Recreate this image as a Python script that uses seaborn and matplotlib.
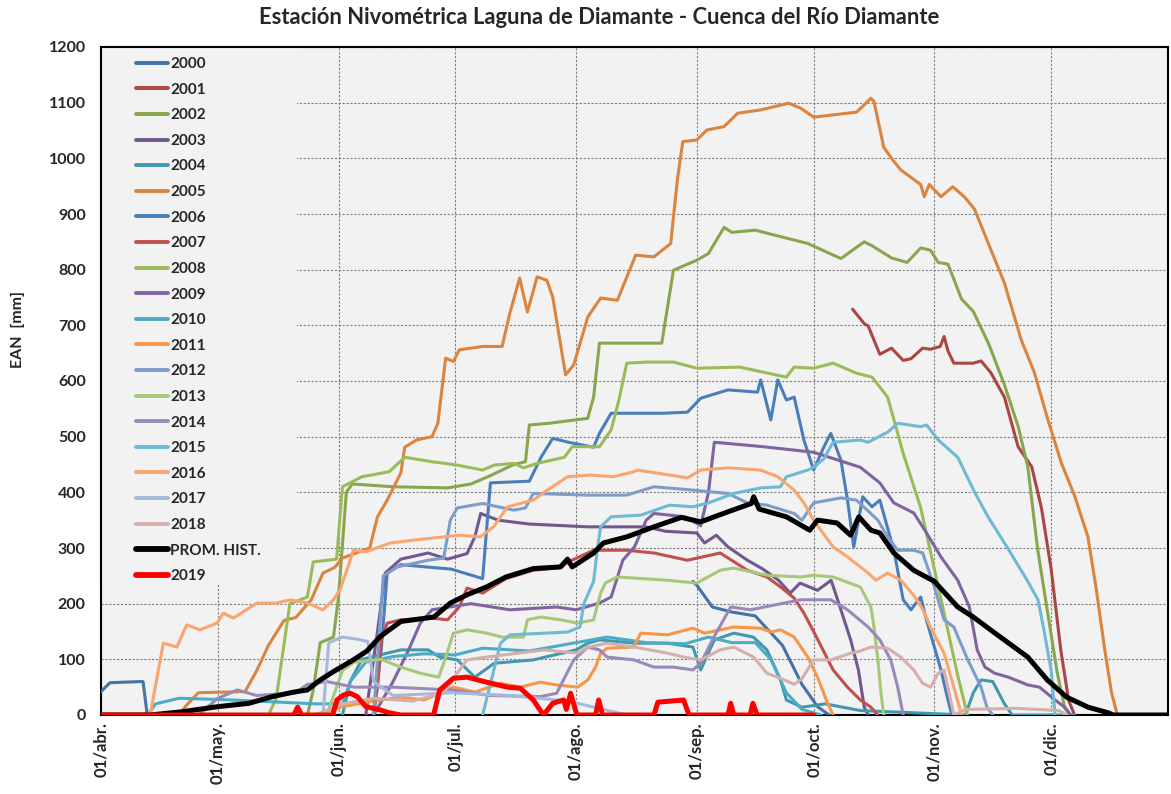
import matplotlib
matplotlib.use("Agg")
import pandas as pd
import matplotlib.pyplot as plt
import seaborn as sns
from matplotlib.lines import Line2D
from matplotlib.patches import Rectangle

sns.set_style("white")
plt.rcParams['font.family'] = ['Lato', 'DejaVu Sans']
plt.rcParams['font.weight'] = 'bold'

# 1. Datos: (día desde 01/abr, EAN mm)
meses = ['01/abr.', '01/may.', '01/jun.', '01/jul.', '01/ago.', '01/sep.', '01/oct.', '01/nov.', '01/dic.']
dias_mes = [0, 30, 61, 91, 122, 153, 183, 214, 244]

s2000a = [(0, 42), (2.3, 58), (10, 60), (10.8, 60), (11.8, 4), (13, 0)]
s2000b = [(152, 240), (153, 233), (157, 194), (162, 185), (168, 178), (175, 125), (180, 55), (184, 15), (187, 0)]
s2001 = [(193, 729), (196, 703), (197, 699), (200, 648), (203, 659), (206, 637), (208, 640), (211, 659), (213, 657),
         (215.5, 662), (216.5, 680), (217.5, 654), (219, 632), (224, 632), (226, 636), (228.5, 615), (232, 571),
         (235.5, 482), (239, 446), (241.5, 372), (244, 262), (246.5, 115), (248.5, 26), (250, 0)]
s2002 = [(53, 0), (54.5, 45), (56.3, 130), (59.7, 140), (61, 212), (63, 400), (64.5, 415), (75, 410), (89, 408),
         (95, 415), (100, 430), (106, 450), (109, 455), (110, 521), (115, 524), (125, 533), (126.5, 571), (128, 668),
         (135, 668), (144, 668), (147, 799), (153, 817), (156, 829), (160, 876), (162, 867), (168, 871), (173, 862),
         (181.5, 847), (190, 820), (194, 840), (196, 850), (198, 843), (203, 821), (207, 813), (210.5, 839),
         (213, 835), (215, 813), (217.5, 810), (221, 747), (224, 725), (228, 666), (232, 593), (235.5, 519),
         (238, 446), (240.5, 299), (243, 188), (245.5, 78), (247.5, 12), (249, 0)]
s2003 = [(68, 0), (71, 150), (73, 255), (77, 280), (84, 291), (89, 280), (94, 290), (96, 320), (97.5, 362), (102, 350),
         (110, 343), (125, 338), (140, 338), (145, 330), (153, 327), (155, 309), (158, 323), (161, 302), (166, 278),
         (170, 262), (174, 242), (177, 219), (179.5, 237), (184, 224), (187.5, 242), (190, 189), (192.5, 135),
         (194.5, 81), (196, 14), (197, 0)]
s2004 = [(62, 0), (64, 60), (67, 100), (77, 117), (84, 117), (87, 104), (91.5, 99), (96, 68), (101, 93), (111, 99),
         (122, 117), (125, 129), (128, 135), (137, 129), (145.5, 129), (152, 122), (154, 81), (157.5, 135),
         (162.5, 147), (167.5, 140), (171, 117), (174.5, 63), (176, 27), (180, 14), (186, 20), (195, 8), (222, 0),
         (224, 40), (226, 63), (229, 60), (232, 20), (234, 0), (250, 0)]
s2005 = [(20, 0), (22, 18), (25, 40), (37, 42), (40, 80), (43, 125), (47, 170), (50, 175), (54, 207), (57, 255),
         (60, 265), (62, 282), (69, 300), (71, 356), (73.5, 386), (77, 435), (78, 481), (81, 494), (85, 500),
         (86.5, 524), (88.5, 641), (90.5, 635), (92, 656), (98, 662), (103, 662), (105, 722), (107.5, 785),
         (109.5, 724), (112, 787), (114.5, 781), (116, 751), (119.3, 611), (121.4, 629), (125, 715), (128.3, 749),
         (132.6, 745), (137.3, 826), (142, 823), (146.3, 847), (148, 961), (149.4, 1030), (153, 1033), (155.6, 1051),
         (160, 1057), (163.5, 1081), (169.4, 1087), (176.6, 1099), (179.7, 1090), (183, 1074), (188, 1078),
         (194, 1083), (196, 1096), (197.7, 1108), (198.5, 1102), (201, 1020), (203, 1000), (205.4, 979),
         (210.5, 953), (211.4, 931), (212.7, 953), (215.7, 931), (218.7, 949), (221.7, 931), (224.3, 909),
         (227.7, 850), (232, 776), (236.3, 674), (239.7, 615), (243, 534), (246.6, 453), (250, 394), (253.4, 321),
         (255.5, 230), (257.7, 120), (259.5, 40), (261, 0)]
s2006 = [(70, 0), (72, 120), (73.5, 255), (77, 270), (90, 262), (98, 245), (100, 417), (110, 420), (113, 463),
         (116, 497), (120, 490), (126.5, 481), (128, 506), (131, 542), (144, 542), (150.6, 544), (154, 569),
         (161, 584), (168.6, 580), (169.4, 602), (172, 530), (173.8, 602), (176, 566), (178, 571), (180.5, 494),
         (183, 440), (185.6, 481), (187.4, 506), (190, 458), (191.7, 386), (193.3, 302), (195.6, 392), (198, 374),
         (200, 386), (203.6, 296), (206, 207), (208, 189), (210.5, 212), (212, 170), (214, 122), (215.7, 81),
         (217.5, 27), (218.5, 0)]
s2007 = [(70, 0), (71, 50), (72, 135), (73.5, 165), (77, 171), (85, 174), (89, 171), (92, 194), (94, 228), (98, 219),
         (104, 245), (111, 260), (118, 265), (120, 275), (126.5, 296), (135, 296), (142, 291), (150.6, 278),
         (159, 291), (166, 260), (171, 248), (174.5, 230), (178, 210), (180.5, 183), (183, 150), (188, 81),
         (191.7, 50), (195, 27), (197.7, 14), (199.5, 0)]
s2008 = [(43, 0), (45, 30), (48.5, 200), (53, 212), (54.5, 275), (60.5, 280), (62, 410), (67, 428), (74, 437),
         (78, 463), (85, 455), (91.5, 449), (98, 440), (101, 449), (106, 452), (108.5, 444), (112, 452), (119, 463),
         (121, 482), (128, 482), (131, 512), (133, 566), (135, 632), (140, 634), (147, 634), (153, 623), (164, 625),
         (176, 607), (178, 625), (183, 623), (188, 632), (194, 614), (198, 607), (202, 571), (206, 470),
         (210.5, 372), (214, 262), (217.5, 151), (220, 71), (222.5, 0)]
s2009 = [(70, 0), (75, 60), (79, 117), (82, 165), (85, 189), (95, 200), (105, 189), (117, 194), (122, 189),
         (128, 201), (131, 212), (134, 278), (137, 302), (140, 350), (142, 362), (150, 356), (154, 340), (156, 400),
         (157.5, 490), (170, 482), (183, 472), (195, 445), (200, 417), (203.6, 381), (208.7, 363), (212, 327),
         (215.7, 284), (220, 242), (223, 194), (225, 117), (227, 86), (229.5, 75), (233, 68), (238, 54), (241, 50),
         (245, 27), (247.5, 14), (249, 0)]
s2010 = [(12, 0), (14, 20), (20, 30), (30, 28), (40, 25), (55, 20), (62, 20), (64, 60), (68, 95), (75, 105), (83, 110),
         (91, 108), (98, 120), (110, 115), (118, 125), (122, 130), (130, 140), (140, 130), (150, 128), (156, 140),
         (162, 130), (168, 130), (172, 100), (176, 40), (180, 10), (185, 0)]
s2011 = [(55, 0), (62, 15), (70, 25), (77, 32), (83, 27), (90.5, 50), (96, 41), (102.6, 57), (107.7, 50), (112.8, 59),
         (117, 54), (122.4, 50), (125, 63), (127, 86), (128.3, 111), (130, 120), (136.8, 122), (138.6, 147),
         (145.5, 144), (152, 156), (155, 147), (162.5, 158), (169.4, 156), (172, 149), (174.5, 153), (178, 140),
         (181.5, 104), (184, 68), (186.6, 21), (188, 0)]
s2012 = [(70, 0), (72.5, 250), (76, 266), (84, 278), (88, 282), (89.7, 350), (91.5, 372), (98, 380), (106, 368),
         (109, 372), (111, 398), (125, 395), (135, 395), (142, 410), (152, 404), (161, 398), (166, 381), (171, 377),
         (178, 362), (180, 350), (183, 381), (190, 390), (194, 386), (199.5, 350), (202, 320), (204.6, 296),
         (208.7, 296), (211, 291), (214, 230), (216.5, 171), (219, 158), (222.6, 99), (226, 50), (227.5, 14), (229, 0)]
s2013 = [(58, 0), (62, 80), (65, 95), (72, 100), (77, 86), (82, 75), (86.7, 68), (88, 93), (90.5, 147), (94, 153),
         (99, 147), (103, 140), (108.5, 140), (109.5, 171), (113, 176), (118, 171), (122.4, 165), (126.5, 171),
         (128.3, 219), (129.5, 237), (132.6, 248), (145.5, 242), (153, 237), (159, 260), (162.5, 264), (171, 251),
         (179.7, 248), (183, 251), (188, 248), (195, 230), (197.7, 194), (198.5, 158), (199.5, 99), (200.3, 39),
         (201, 0)]
s2014 = [(25, 0), (30, 30), (35, 45), (40, 35), (50, 40), (53, 55), (58, 60), (65, 50), (75, 50), (90, 45), (100, 35),
         (112.8, 33), (117, 39), (121.4, 99), (125, 122), (128, 117), (130, 104), (136.8, 99), (142, 86), (147, 86),
         (152, 81), (154, 93), (157.4, 140), (161.7, 194), (166.8, 189), (175.4, 201), (179.7, 207), (187.4, 207),
         (191.7, 189), (197, 158), (200, 135), (202.8, 99), (204.6, 50), (206, 0)]
s2015 = [(98, 0), (102.6, 129), (105, 144), (119.8, 149), (123, 158), (124, 200), (126.5, 240), (127.5, 300),
         (128.3, 338), (131, 356), (138.6, 359), (146, 377), (152, 374), (156, 381), (162.5, 398), (169.4, 408),
         (174.5, 410), (176, 428), (181.5, 440), (183, 445), (185.6, 460), (188, 490), (195, 494), (197, 490),
         (202, 508), (204.6, 524), (210.5, 518), (212, 521), (215, 494), (220, 463), (224.3, 401), (227.7, 357),
         (232.9, 299), (238, 240), (240.6, 207), (242, 158), (244, 80), (245, 0)]
s2016 = [(12.6, 0), (16, 129), (19.5, 122), (22, 162), (25.4, 153), (29.8, 165), (31.4, 183), (34, 174), (40, 201),
         (45, 201), (48.6, 207), (53, 201), (57, 189), (59.7, 207), (61.4, 225), (64, 278), (64.8, 296), (68, 293),
         (74.3, 309), (80, 314), (85.3, 318), (92.3, 323), (97.4, 320), (100.8, 338), (104.4, 374), (111, 386),
         (114.6, 404), (119.8, 428), (125.7, 431), (131.6, 428), (136.8, 437), (137.8, 440), (148.8, 428),
         (150.6, 426), (154, 440), (161, 444), (169.4, 440), (173.8, 428), (178, 404), (180.5, 381), (183, 350),
         (188, 302), (191.7, 284), (197, 255), (199, 242), (202, 255), (205.4, 242), (208.7, 215), (211, 190),
         (213, 158), (216.5, 111), (219, 50), (221, 0)]
s2017 = [(57, 0), (58.5, 130), (62, 140), (66, 136), (68.5, 132), (70, 60), (75, 35), (90, 40), (105, 35), (120, 25),
         (135, 0)]
s2018 = [(55, 0), (62, 20), (70, 30), (80, 25), (88, 40), (92.5, 85), (94, 99), (99, 104), (107, 111), (114, 117),
         (122.4, 111), (125, 122), (130, 129), (137, 122), (145.5, 111), (149.6, 104), (154, 99), (159, 117),
         (162.5, 122), (167.6, 104), (171, 75), (175.5, 63), (178, 55), (180, 65), (183, 99), (187.4, 99),
         (192.5, 111), (195, 115), (197.7, 122), (202, 120), (205.4, 104), (208.7, 81), (211, 57), (213, 50),
         (215, 75), (216.5, 81), (219, 0), (222, 10), (235, 12), (246, 8), (248, 0)]
prom = [(0, 0), (12.6, 0), (21, 6), (30, 15), (38, 21), (44, 33), (49.4, 41), (53, 45), (56.3, 63), (59.7, 78),
        (64.8, 99), (68.3, 115), (71.7, 141), (77, 168), (85.5, 176), (89.7, 201), (94, 216), (99, 230), (104, 248),
        (111, 263), (118, 266), (119.8, 280), (121, 266), (126.5, 291), (129, 309), (135, 320), (142, 338),
        (149, 355), (154, 347), (161, 365), (167, 380), (167.6, 392), (169, 370), (174.5, 359), (176, 356),
        (182, 332), (184, 350), (189, 345), (192.5, 323), (194.6, 356), (197.7, 332), (200, 327), (203.6, 291),
        (208.7, 260), (214, 240), (220, 194), (224, 176), (229, 150), (238, 104), (243, 63), (248, 32),
        (253.5, 14), (258.6, 4), (260, 0), (274, 0)]
s2019 = [(0, 0), (49.5, 0), (50.5, 14), (51.5, 0), (59.5, 0), (60.6, 27), (62.3, 36), (64, 39), (65.8, 33), (68, 15),
         (71.7, 9), (74, 4), (77, 0), (85.4, 0), (87, 45), (90.5, 66), (94, 68), (99, 59), (104.4, 50), (107.7, 48),
         (111, 27), (113.6, 0), (116, 21), (118.8, 27), (119.5, 10), (120.6, 39), (122.2, 0), (127, 0), (127.8, 27),
         (128.8, 0), (142, 0), (143, 23), (149.6, 27), (151, 0), (161, 0), (161.7, 21), (162.5, 0), (166.7, 0),
         (167.4, 21), (168.5, 0), (183, 0)]

# 2. Series: etiqueta, tramos, color, grosor
series = [
    ("2000", [s2000a, s2000b], '#4572A7', 2.2),
    ("2001", [s2001], '#AA4643', 2.2),
    ("2002", [s2002], '#89A54E', 2.2),
    ("2003", [s2003], '#71588F', 2.2),
    ("2004", [s2004], '#4198AF', 2.2),
    ("2005", [s2005], '#DB843D', 2.2),
    ("2006", [s2006], '#4A7EBB', 2.2),
    ("2007", [s2007], '#C0504D', 2.2),
    ("2008", [s2008], '#9BBB59', 2.2),
    ("2009", [s2009], '#8064A2', 2.2),
    ("2010", [s2010], '#4BACC6', 2.2),
    ("2011", [s2011], '#F79646', 2.2),
    ("2012", [s2012], '#7E9CCB', 2.2),
    ("2013", [s2013], '#A6C878', 2.2),
    ("2014", [s2014], '#9A89B8', 2.2),
    ("2015", [s2015], '#6EBAD3', 2.2),
    ("2016", [s2016], '#F8A56F', 2.2),
    ("2017", [s2017], '#A5B9DB', 2.2),
    ("2018", [s2018], '#D5AFAE', 2.2),
    ("PROM. HIST.", [prom], '#000000', 3.6),
    ("2019", [s2019], '#FF0000', 3.6),
]

# 3. Gráfico
fig = plt.figure(figsize=(11.71, 7.94), dpi=100)
ax = fig.add_axes([101 / 1171, 1 - 715 / 794, 1067 / 1171, 668 / 794])
ax.set_facecolor('#f2f2f2')

for nombre, tramos, color, lw in series:
    for tramo in tramos:
        df = pd.DataFrame(tramo, columns=["dia", "ean"])
        sns.lineplot(data=df, x="dia", y="ean", color=color, lw=lw, estimator=None, sort=False,
                     ax=ax, legend=False, solid_joinstyle='round', zorder=3)

ax.set_xlim(0, 274)
ax.set_ylim(0, 1200)
ax.set_xticks(dias_mes, meses, rotation=90)
ax.set_yticks(range(0, 1201, 100))
ax.set_xlabel("")
ax.set_ylabel("")
ax.set_axisbelow(True)
ax.grid(True, color='#7f7f7f', linestyle=(0, (2, 1.5)), lw=0.8)
ax.tick_params(axis='y', length=0, labelsize=11.5, pad=11)
ax.tick_params(axis='x', length=0, labelsize=12, pad=5)
for sp in ax.spines.values():
    sp.set_color('black')
    sp.set_linewidth(1.5)

# fondo de la leyenda tapa la grilla
ax.add_patch(Rectangle((0, 0.195), 0.184, 0.805, transform=ax.transAxes,
                       facecolor='#f2f2f2', edgecolor='none', zorder=1))

handles = [Line2D([], [], color=c, lw=(4.2 if lw > 3 else 2.8)) for _, _, c, lw in series]
labels = [s[0] for s in series]
ax.legend(handles, labels, loc='upper left', bbox_to_anchor=(0.0328, 0.985), frameon=False,
          borderaxespad=0, borderpad=0, handlelength=2.1, handletextpad=0.15,
          labelspacing=0.76, prop={'weight': 'bold', 'size': 11})

fig.text(599 / 1171, 1 - 18 / 794, "Estación Nivométrica Laguna de Diamante - Cuenca del Río Diamante",
         ha='center', va='center', fontsize=15.8, weight='bold')
fig.text(18 / 1171, 1 - 330 / 794, "EAN  [mm]", rotation=90, ha='center', va='center',
         fontsize=11.5, weight='bold')

fig.savefig("out.png", dpi=100, facecolor='white')
